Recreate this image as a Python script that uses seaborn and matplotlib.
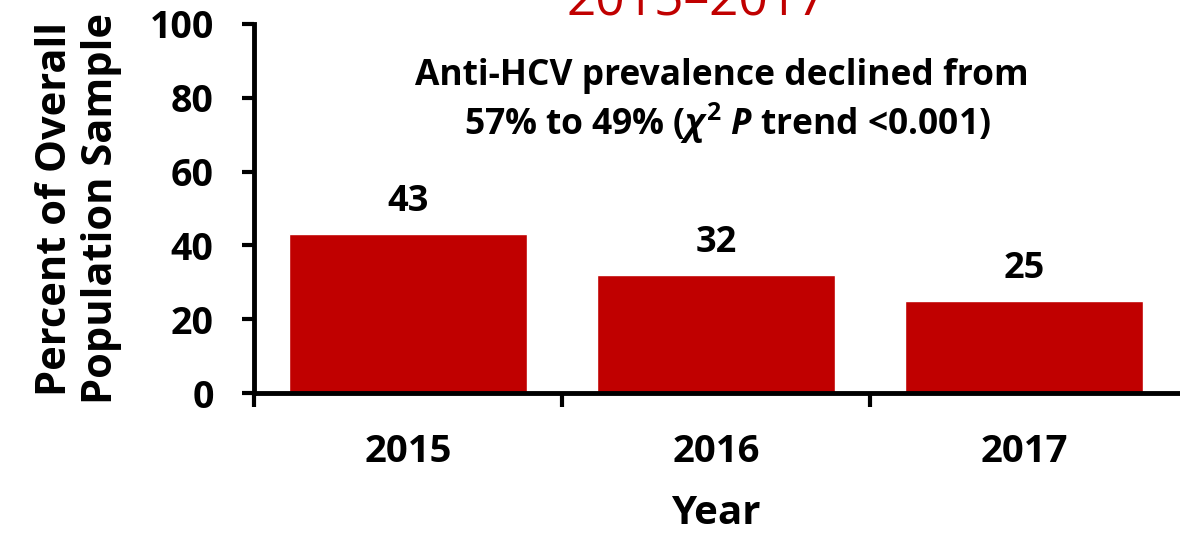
import numpy as np
import pandas as pd
import matplotlib
matplotlib.use("Agg")
import matplotlib.pyplot as plt
import seaborn as sns

years = ["2015", "2016", "2017"]
percent = [43, 32, 25]
y_ticks = [0, 20, 40, 60, 80, 100]

sns.set_style("white")
plt.rcParams['font.family'] = ['Open Sans', 'DejaVu Sans']
plt.rcParams['font.weight'] = 'bold'
plt.rcParams['text.color'] = 'black'
plt.rcParams['axes.labelcolor'] = 'black'
plt.rcParams['xtick.color'] = 'black'
plt.rcParams['ytick.color'] = 'black'
plt.rcParams['mathtext.fontset'] = 'custom'
plt.rcParams['mathtext.rm'] = 'Open Sans:bold'
plt.rcParams['mathtext.it'] = 'Open Sans:bold:italic'
plt.rcParams['mathtext.bf'] = 'Open Sans:bold'

df = pd.DataFrame({"Year": years, "Percent": percent})

fig = plt.figure(figsize=(11.8, 5.34), dpi=100)
ax = fig.add_axes([254/1180, 1 - 393/534, 924/1180, 369/534])

sns.barplot(data=df, x="Year", y="Percent", color="#C00000", saturation=1,
            width=0.77, ax=ax)
ax.set_xlim(-0.5, 2.5)
ax.set_ylim(0, 100)
ax.set_yticks(y_ticks)

sns.despine(ax=ax)
for s in ["left", "bottom"]:
    ax.spines[s].set_linewidth(3.5)
    ax.spines[s].set_color("black")

ax.tick_params(axis="y", direction="out", length=9, width=3, pad=20,
               labelsize=27, left=True)
ax.tick_params(axis="x", which="major", length=0, pad=29, labelsize=27.5)
ax.set_xticks([-0.5, 0.5, 1.5], minor=True)
ax.tick_params(axis="x", which="minor", direction="out", length=10, width=3,
               bottom=True)
for lab in ax.get_xticklabels() + ax.get_yticklabels():
    lab.set_fontweight("bold")

ax.set_xlabel("Year", fontsize=29, fontweight="bold", labelpad=16)
ax.set_ylabel("Percent of Overall\nPopulation Sample", fontsize=30,
              fontweight="bold", labelpad=20, linespacing=1.15)

for c in ax.containers:
    ax.bar_label(c, fmt="%d", padding=10, fontsize=26, fontweight="bold")

fig.text(722/1180, 1 - 85/534, "Anti-HCV prevalence declined from",
         ha="center", va="baseline", fontsize=25.5, fontweight="bold")
fig.text(727/1180, 1 - 135/534, r"57% to 49% ($\chi^{2}$ $P$ trend <0.001)",
         ha="center", va="baseline", fontsize=25.5, fontweight="bold")

fig.text(697/1180, 1 - 16/534, "2015\u20132017", color="#C00000",
         fontsize=37, ha="center", va="baseline", fontweight="normal")

fig.savefig("out.png", dpi=100)
